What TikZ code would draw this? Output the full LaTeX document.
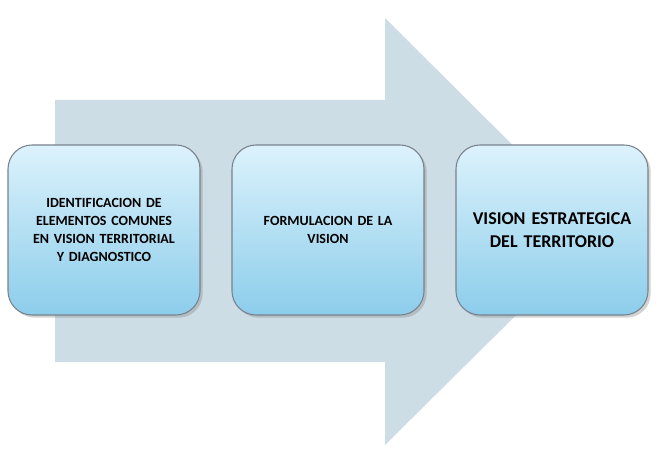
\documentclass[tikz,border=0pt]{standalone}
\usepackage{fontspec}
\setmainfont{Carlito}
\usetikzlibrary{shadows}
\definecolor{arr}{RGB}{205,221,229}
\definecolor{btop}{RGB}{220,242,252}
\definecolor{bbot}{RGB}{140,205,235}
\definecolor{bord}{RGB}{120,130,140}
\begin{document}
\begin{tikzpicture}[x=0.75pt,y=-0.75pt,
  box/.style={draw=bord,line width=0.8pt,rounded corners=18pt,top color=btop,bottom color=bbot,
    minimum width=192*0.75pt,minimum height=170*0.75pt,align=center,font=\bfseries,text width=136pt,
    drop shadow={shadow xshift=2pt,shadow yshift=-2pt,opacity=0.35}}]
\useasboundingbox (0,0) rectangle (656,470);
\fill[arr] (55,100) -- (385,100) -- (385,18) -- (600,232) -- (385,445) -- (385,362) -- (55,362) -- cycle;
\node[box,font=\bfseries\fontsize{10.5}{13.5}\selectfont] (a) at (104,230) {IDENTIFICACION DE\\ELEMENTOS COMUNES\\EN VISION TERRITORIAL\\Y DIAGNOSTICO};
\node[box,font=\bfseries\fontsize{10.5}{13.5}\selectfont] (b) at (328,230) {FORMULACION DE LA\\VISION\\[14pt]};
\node[box,font=\bfseries\fontsize{13.5}{17}\selectfont] (c) at (552,230) {VISION ESTRATEGICA\\DEL TERRITORIO\\[18pt]};
\end{tikzpicture}
\end{document}
